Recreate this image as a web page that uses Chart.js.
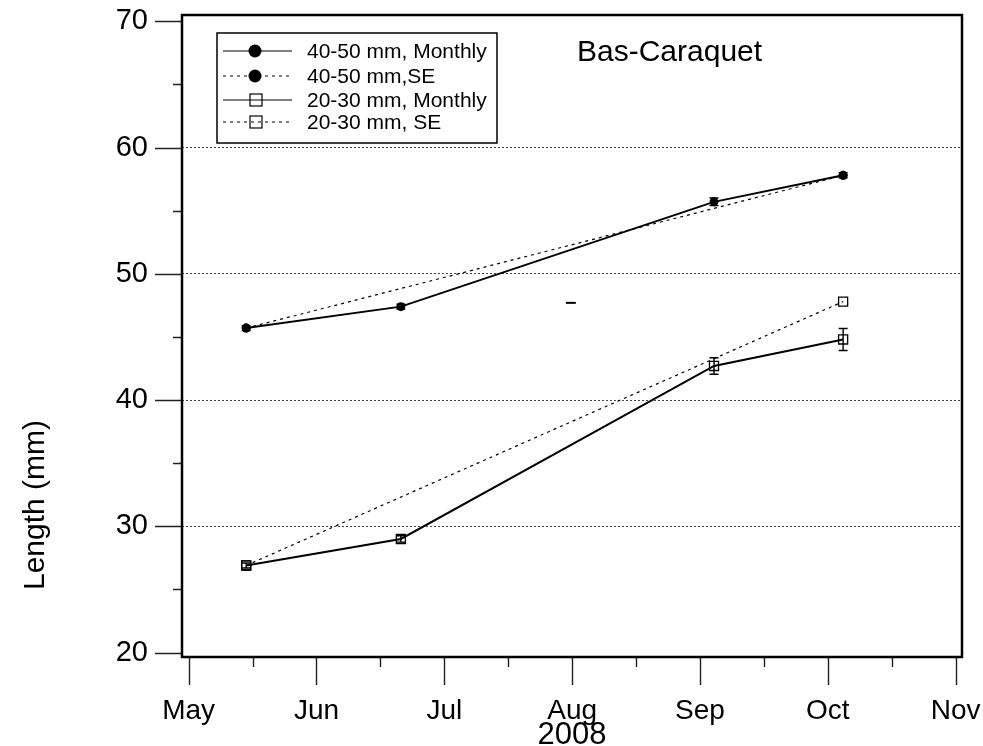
<!DOCTYPE html>
<html>
<head>
<meta charset="utf-8">
<script src="https://cdn.jsdelivr.net/npm/chart.js@4.4.0/dist/chart.umd.min.js"></script>
<style>
  html, body { margin: 0; padding: 0; background: #fff; }
</style>
</head>
<body>
<canvas id="chart" width="983" height="746"></canvas>
<script>
//DATA
const monthLabels = ['May', 'Jun', 'Jul', 'Aug', 'Sep', 'Oct', 'Nov'];
const yTickValues = [20, 30, 40, 50, 60, 70];
const sampleMonths = [0.45, 1.66, 4.11, 5.12]; // months after 1 May 2008
const seMonths = [0.45, 5.12];
const large = [45.7, 47.4, 55.7, 57.8];
const largeErr = [0.2, 0.2, 0.3, 0.2];
const largeSE = [45.7, 57.8];
const small = [26.9, 29.0, 42.7, 44.8];
const smallErr = [0.2, 0.25, 0.65, 0.87];
const smallSE = [26.9, 47.8];
const oddMonth = [2.99];
const oddValue = [47.7];
const seriesLabels = ['40-50 mm, Monthly', '40-50 mm,SE', '20-30 mm, Monthly', '20-30 mm, SE'];
const plotTitle = 'Bas-Caraquet';
const yTitle = 'Length (mm)';
const xTitle = '2008';

const FONT = '"Liberation Sans", Arial, Helvetica, sans-serif';
Chart.defaults.font.family = FONT;
Chart.defaults.color = '#000';

function pairs(xs, ys) {
  return ys.map((v, i) => ({ x: xs[i], y: v }));
}

//FRAME, TICK MARKS, ERROR BARS, LEGEND AND TITLES
const extrasPlugin = {
  id: 'extras',
  afterDatasetsDraw(chart) {
    const { ctx, scales: { x, y } } = chart;
    ctx.save();
    ctx.strokeStyle = '#000';
    ctx.lineWidth = 1.4;
    chart.data.datasets.forEach(ds => {
      if (!ds.errors) return;
      ds.data.forEach((p, j) => {
        const px = x.getPixelForValue(p.x);
        const top = y.getPixelForValue(p.y + ds.errors[j]);
        const bot = y.getPixelForValue(p.y - ds.errors[j]);
        ctx.beginPath();
        ctx.moveTo(px, top); ctx.lineTo(px, bot);
        ctx.moveTo(px - 4.5, top); ctx.lineTo(px + 4.5, top);
        ctx.moveTo(px - 4.5, bot); ctx.lineTo(px + 4.5, bot);
        ctx.stroke();
      });
    });
    ctx.restore();
  },
  afterDraw(chart) {
    const { ctx, chartArea: a, scales: { x, y } } = chart;
    ctx.save();

    // tick marks
    ctx.strokeStyle = '#222';
    ctx.lineWidth = 1.4;
    ctx.beginPath();
    for (let v = 20; v <= 70; v += 5) {
      const py = Math.round(y.getPixelForValue(v)) + 0.5;
      ctx.moveTo(a.left - (v % 10 === 0 ? 27 : 9), py);
      ctx.lineTo(a.left, py);
    }
    for (let m = 0; m <= 6; m += 0.5) {
      const px = Math.round(x.getPixelForValue(m)) + 0.5;
      ctx.moveTo(px, a.bottom);
      ctx.lineTo(px, a.bottom + (m % 1 === 0 ? 28 : 10));
    }
    ctx.stroke();

    // frame
    ctx.strokeStyle = '#000';
    ctx.lineWidth = 2.5;
    ctx.strokeRect(a.left, a.top, a.right - a.left, a.bottom - a.top);

    // legend
    const lx = 217, ly = 33, lw = 280, lh = 110;
    ctx.lineWidth = 1.5;
    ctx.strokeRect(lx, ly, lw, lh);
    const rows = [51, 76, 100, 122];
    chart.data.datasets.slice(0, 4).forEach((ds, i) => {
      const ry = rows[i];
      ctx.strokeStyle = '#000';
      ctx.lineWidth = ds.borderDash.length ? 1.1 : 1.2;
      ctx.setLineDash(ds.borderDash);
      ctx.beginPath();
      ctx.moveTo(223, ry); ctx.lineTo(292, ry);
      ctx.stroke();
      ctx.setLineDash([]);
      if (ds.pointStyle === 'circle') {
        ctx.fillStyle = '#000';
        ctx.beginPath();
        ctx.arc(255, ry, 6.5, 0, Math.PI * 2);
        ctx.fill();
      } else {
        ctx.lineWidth = 1.2;
        ctx.strokeRect(250, ry - 6, 12, 12);
      }
      ctx.fillStyle = '#000';
      ctx.font = '21px ' + FONT;
      ctx.textAlign = 'left';
      ctx.textBaseline = 'middle';
      ctx.fillText(seriesLabels[i], 307, ry + 1);
    });

    // plot title
    ctx.font = '30px ' + FONT;
    ctx.textAlign = 'left';
    ctx.textBaseline = 'middle';
    ctx.fillText(plotTitle, 577, 53);

    // y axis title
    ctx.translate(36, 505);
    ctx.rotate(-Math.PI / 2);
    ctx.textAlign = 'center';
    ctx.font = '30px ' + FONT;
    ctx.fillText(yTitle, 0, 0);

    ctx.restore();
  }
};

const datasets = [
  {
    label: seriesLabels[0],
    data: pairs(sampleMonths, large),
    errors: largeErr,
    showLine: true,
    borderColor: '#000',
    borderWidth: 2,
    borderDash: [],
    pointStyle: 'circle',
    pointRadius: 4.5,
    pointBackgroundColor: '#000',
    pointBorderColor: '#000',
    pointBorderWidth: 0
  },
  {
    label: seriesLabels[1],
    data: pairs(seMonths, largeSE),
    showLine: true,
    borderColor: '#000',
    borderWidth: 1.2,
    borderDash: [3, 4],
    pointStyle: 'circle',
    pointRadius: 4.5,
    pointBackgroundColor: '#000',
    pointBorderColor: '#000',
    pointBorderWidth: 0
  },
  {
    label: seriesLabels[2],
    data: pairs(sampleMonths, small),
    errors: smallErr,
    showLine: true,
    borderColor: '#000',
    borderWidth: 2,
    borderDash: [],
    pointStyle: 'rect',
    pointRadius: 6.4,
    pointBackgroundColor: 'rgba(0,0,0,0)',
    pointBorderColor: '#000',
    pointBorderWidth: 1.3
  },
  {
    label: seriesLabels[3],
    data: pairs(seMonths, smallSE),
    showLine: true,
    borderColor: '#000',
    borderWidth: 1.2,
    borderDash: [3, 4],
    pointStyle: 'rect',
    pointRadius: 6.4,
    pointBackgroundColor: 'rgba(0,0,0,0)',
    pointBorderColor: '#000',
    pointBorderWidth: 1.3
  },
  {
    label: 'mark',
    data: pairs(oddMonth, oddValue),
    showLine: false,
    borderDash: [],
    pointStyle: 'line',
    pointRadius: 5,
    pointBorderColor: '#000',
    pointBorderWidth: 2
  }
];

new Chart(document.getElementById('chart'), {
  type: 'scatter',
  data: { datasets: datasets },
  options: {
    responsive: false,
    animation: false,
    layout: { padding: { top: 15, right: 21, left: 0, bottom: 0 } },
    plugins: {
      legend: { display: false },
      tooltip: { enabled: false }
    },
    scales: {
      x: {
        type: 'linear',
        position: 'bottom',
        min: -0.052,
        max: 6.05,
        afterBuildTicks: s => { s.ticks = monthLabels.map((m, i) => ({ value: i })); },
        afterFit: s => { s.height = 89; s.paddingLeft = 0; s.paddingRight = 0; },
        ticks: {
          callback: v => monthLabels[v],
          font: { size: 28 },
          color: '#000',
          padding: 37,
          maxRotation: 0,
          autoSkip: false
        },
        grid: { display: false, drawTicks: false },
        border: { display: false },
        title: {
          display: true,
          text: xTitle,
          font: { size: 31, lineHeight: 1 },
          color: '#000',
          padding: { top: 0, bottom: -5 }
        }
      },
      y: {
        min: 19.65,
        max: 70.5,
        afterBuildTicks: s => { s.ticks = yTickValues.map(v => ({ value: v })); },
        afterFit: s => { s.width = 182; s.paddingTop = 0; s.paddingBottom = 0; },
        ticks: {
          font: { size: 29 },
          color: '#000',
          padding: 34
        },
        grid: {
          drawTicks: false,
          lineWidth: 1,
          color: c => (c.tick && (c.tick.value === 20 || c.tick.value === 70)) ? 'rgba(0,0,0,0)' : '#444'
        },
        border: { display: false, dash: [2, 2] }
      }
    }
  },
  plugins: [extrasPlugin]
});
</script>
</body>
</html>
